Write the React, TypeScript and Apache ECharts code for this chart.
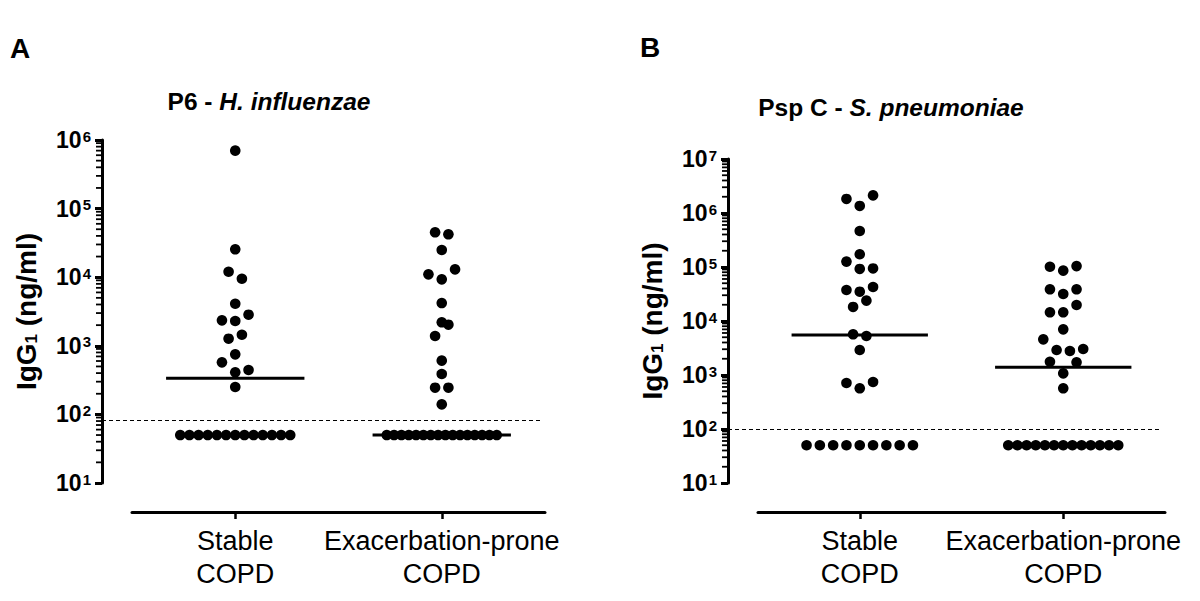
import { useEffect, useRef } from 'react';
import * as echarts from 'echarts';

// ---------------- data ----------------
const CATEGORIES = ['Stable\nCOPD', 'Exacerbation-prone\nCOPD'];

// Panel A: P6 - H. influenzae, IgG1 (ng/ml)
const P6_STABLE = [
  700000, 25500, 12000, 9500, 4100, 2350, 2300, 2840, 1270, 1450, 750, 574, 411, 444, 251,
  50, 50, 50, 50, 50, 50, 50, 50, 50, 50, 50, 50, 50,
];
const P6_EXAC = [
  45100, 42200, 24900, 11000, 9300, 13000, 4200, 2200, 1390, 2030, 607, 388, 245, 245, 140,
  50, 50, 50, 50, 50, 50, 50, 50, 50, 50, 50, 50, 50, 50, 50, 50,
];
const P6_MEDIANS = [336, 50];
const P6_THRESHOLD = 82;

// Panel B: Psp C - S. pneumoniae, IgG1 (ng/ml)
const PSPC_STABLE = [
  1820000, 1350000, 2120000, 464000, 172000, 126000, 92000, 94000, 37500, 34900, 42600,
  18200, 23800, 5670, 5270, 2900, 711, 567, 742,
  50, 50, 50, 50, 50, 50, 50, 50, 50,
];
const PSPC_EXAC = [
  101000, 85500, 104000, 38600, 31600, 38600, 14500, 14500, 19800, 7000, 4570, 2900, 2780,
  3030, 1760, 1070, 1720, 567,
  50, 50, 50, 50, 50, 50, 50, 50, 50, 50, 50, 50, 50,
];
const PSPC_MEDIANS = [5500, 1390];
const PSPC_THRESHOLD = 100;

const Y_RANGE_A = [10, 1e6];
const Y_RANGE_B = [10, 1e7];

// ---------------- style / layout ----------------
const FONT = '"Liberation Sans", Arial, Helvetica, sans-serif';
const Y_OFFSET = 30;
const X_OFFSET = 29;
const DOT_R = 5.3;
const ROW_H = 12.5;
const STEP = 13.3;
const MAX_W = 110;
const MEDIAN_FRAC = 0.335;

function minorTickValues(range: number[]) {
  const out: number[] = [];
  const e0 = Math.round(Math.log10(range[0]));
  const e1 = Math.round(Math.log10(range[1]));
  for (let e = e0; e < e1; e++) {
    for (let k = 2; k <= 9; k++) out.push(k * Math.pow(10, e));
  }
  return out;
}

function swarmOffsets(ys: number[]) {
  const idx = ys.map((_, i) => i).sort((a, b) => ys[b] - ys[a] || a - b);
  const off = new Array(ys.length).fill(0);
  let i = 0;
  while (i < idx.length) {
    const start = ys[idx[i]];
    const row = [idx[i]];
    let j = i + 1;
    while (j < idx.length && start - ys[idx[j]] < ROW_H) {
      row.push(idx[j]);
      j++;
    }
    row.sort((a, b) => a - b);
    const n = row.length;
    const step = n > 1 ? Math.min(STEP, MAX_W / (n - 1)) : 0;
    row.forEach((k, r) => {
      off[k] = (r - (n - 1) / 2) * step;
    });
    i = j;
  }
  return off;
}

function dotSeries(grid: number, cat: number, vals: number[]) {
  return {
    type: 'custom',
    coordinateSystem: 'cartesian2d',
    xAxisIndex: grid,
    yAxisIndex: grid,
    data: vals.map((v) => [cat, v]),
    encode: { x: 0, y: 1 },
    z: 5,
    clip: false,
    renderItem: (params: any, api: any) => {
      const ys = vals.map((v) => api.coord([cat, v])[1]);
      const off = swarmOffsets(ys);
      const p = api.coord([cat, api.value(1)]);
      return {
        type: 'circle',
        shape: { cx: p[0] + off[params.dataIndex], cy: p[1], r: DOT_R },
        style: { fill: '#000' },
      };
    },
  };
}

function medianSeries(grid: number, meds: number[]) {
  return {
    type: 'custom',
    coordinateSystem: 'cartesian2d',
    xAxisIndex: grid,
    yAxisIndex: grid,
    data: meds.map((m, i) => [i, m]),
    encode: { x: 0, y: 1 },
    z: 6,
    clip: false,
    renderItem: (_params: any, api: any) => {
      const p = api.coord([api.value(0), api.value(1)]);
      const hw = api.size([1, 0])[0] * MEDIAN_FRAC;
      return {
        type: 'line',
        shape: { x1: p[0] - hw, y1: p[1], x2: p[0] + hw, y2: p[1] },
        style: { stroke: '#000', lineWidth: 3 },
      };
    },
  };
}

function thresholdSeries(grid: number, value: number) {
  return {
    type: 'custom',
    coordinateSystem: 'cartesian2d',
    xAxisIndex: grid,
    yAxisIndex: grid,
    data: [[0, value]],
    encode: { x: 0, y: 1 },
    z: 3,
    clip: false,
    renderItem: (params: any, api: any) => {
      const cs = params.coordSys;
      const y = Math.round(api.coord([0, api.value(1)])[1]) + 0.5;
      return {
        type: 'line',
        shape: { x1: cs.x - Y_OFFSET, y1: y, x2: cs.x + cs.width - 5, y2: y },
        style: { stroke: '#000', lineWidth: 1, lineDash: [4, 3] },
      };
    },
  };
}

function minorTickSeries(grid: number, range: number[]) {
  return {
    type: 'custom',
    coordinateSystem: 'cartesian2d',
    xAxisIndex: grid,
    yAxisIndex: grid,
    data: minorTickValues(range).map((v) => [0, v]),
    encode: { x: 0, y: 1 },
    z: 10,
    clip: false,
    silent: true,
    renderItem: (params: any, api: any) => {
      const x = params.coordSys.x - Y_OFFSET;
      const y = api.coord([0, api.value(1)])[1];
      return {
        type: 'line',
        shape: { x1: x - 6, y1: y, x2: x, y2: y },
        style: { stroke: '#000', lineWidth: 1.8 },
      };
    },
  };
}

function yAxis(grid: number, range: number[]) {
  return {
    type: 'log',
    logBase: 10,
    gridIndex: grid,
    min: range[0],
    max: range[1],
    offset: Y_OFFSET,
    axisLine: { show: true, lineStyle: { color: '#000', width: 3 } },
    axisTick: { show: true, length: 7, lineStyle: { color: '#000', width: 3 } },
    splitLine: { show: false },
    axisLabel: {
      margin: 11,
      formatter: (v: number) => `{b|10}{s|${Math.round(Math.log10(v))}}`,
      rich: {
        b: { fontSize: 23, fontWeight: 'bold', fontFamily: FONT, color: '#000' },
        s: {
          fontSize: 15,
          fontWeight: 'bold',
          fontFamily: FONT,
          color: '#000',
          verticalAlign: 'top',
          padding: [0, 0, 0, 1],
        },
      },
    },
    name: '{a|IgG}{b|1}{a| (ng/ml)}',
    nameLocation: 'middle',
    nameGap: 62,
    nameTextStyle: {
      rich: {
        a: { fontSize: 28, fontWeight: 'bold', fontFamily: FONT, color: '#000' },
        b: { fontSize: 17, fontWeight: 'bold', fontFamily: FONT, color: '#000', verticalAlign: 'bottom' },
      },
    },
  };
}

function xAxis(grid: number) {
  return {
    type: 'category',
    gridIndex: grid,
    data: CATEGORIES,
    offset: X_OFFSET,
    axisLine: { show: true, lineStyle: { color: '#000', width: 3 } },
    axisTick: { show: true, alignWithLabel: true, length: 7, lineStyle: { color: '#000', width: 2.5 } },
    axisLabel: {
      interval: 0,
      margin: 12,
      fontSize: 27,
      lineHeight: 33,
      fontFamily: FONT,
      color: '#000',
    },
    splitLine: { show: false },
  };
}

export default function App() {
  const ref = useRef<HTMLDivElement>(null);
  useEffect(() => {
    if (!ref.current) return;
    const chart = echarts.init(ref.current, undefined, { renderer: 'svg' });
    chart.setOption({
      animation: false,
      backgroundColor: '#fff',
      textStyle: { fontFamily: FONT },
      grid: [
        { left: 132, top: 140, width: 413, height: 343 },
        { left: 758, top: 159, width: 407, height: 324 },
      ],
      xAxis: [xAxis(0), xAxis(1)],
      yAxis: [yAxis(0, Y_RANGE_A), yAxis(1, Y_RANGE_B)],
      graphic: [
        {
          type: 'text',
          x: 10,
          y: 48,
          style: { text: 'A', fontSize: 28, fontWeight: 'bold', fontFamily: FONT, fill: '#000', verticalAlign: 'middle' },
        },
        {
          type: 'text',
          x: 640,
          y: 47,
          style: { text: 'B', fontSize: 28, fontWeight: 'bold', fontFamily: FONT, fill: '#000', verticalAlign: 'middle' },
        },
        {
          type: 'text',
          x: 269,
          y: 101,
          style: {
            text: '{n|P6 - }{i|H. influenzae}',
            align: 'center',
            verticalAlign: 'middle',
            rich: {
              n: { fontSize: 24.5, fontWeight: 'bold', fontFamily: FONT, fill: '#000' },
              i: { fontSize: 24.5, fontWeight: 'bold', fontStyle: 'italic', fontFamily: FONT, fill: '#000' },
            },
          },
        },
        {
          type: 'text',
          x: 891,
          y: 107,
          style: {
            text: '{n|Psp C - }{i|S. pneumoniae}',
            align: 'center',
            verticalAlign: 'middle',
            rich: {
              n: { fontSize: 24.5, fontWeight: 'bold', fontFamily: FONT, fill: '#000' },
              i: { fontSize: 24.5, fontWeight: 'bold', fontStyle: 'italic', fontFamily: FONT, fill: '#000' },
            },
          },
        },
      ],
      series: [
        minorTickSeries(0, Y_RANGE_A),
        minorTickSeries(1, Y_RANGE_B),
        thresholdSeries(0, P6_THRESHOLD),
        thresholdSeries(1, PSPC_THRESHOLD),
        dotSeries(0, 0, P6_STABLE),
        dotSeries(0, 1, P6_EXAC),
        dotSeries(1, 0, PSPC_STABLE),
        dotSeries(1, 1, PSPC_EXAC),
        medianSeries(0, P6_MEDIANS),
        medianSeries(1, PSPC_MEDIANS),
      ],
    });
    return () => chart.dispose();
  }, []);
  return (
    <div
      ref={ref}
      style={{ position: 'absolute', left: 0, top: 0, width: 1200, height: 601, background: '#fff' }}
    />
  );
}
